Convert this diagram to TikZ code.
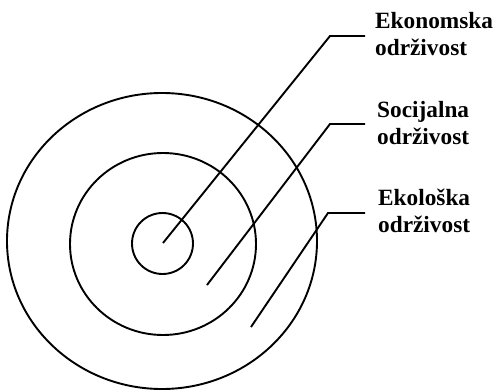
\documentclass[tikz,border=0pt]{standalone}
\usepackage{fontspec}
\setmainfont{Liberation Serif}
\begin{document}
\begin{tikzpicture}[x=1pt,y=-1pt,
  ring/.style={draw=black,line width=1.9pt},
  leader/.style={draw=black,line width=1.9pt},
  lbl/.style={font=\fontsize{23.3}{27}\selectfont\bfseries,align=left,inner sep=0pt,anchor=base west}]
\useasboundingbox (0,0) rectangle (496,391);
\draw[ring] (162,241) ellipse [x radius=155,y radius=148];
\draw[ring] (163,244) ellipse [x radius=93,y radius=91];
\draw[ring] (162.5,243.5) circle [radius=30.5];
\node[lbl] (l1) at (375,55) {Ekonomska\\održivost};
\node[lbl] (l2) at (377,144) {Socijalna\\održivost};
\node[lbl] (l3) at (378,232) {Ekološka\\održivost};
\coordinate (c1) at (163,243);
\coordinate (c2) at (207,285);
\coordinate (c3) at (251,327);
\coordinate (k1) at (330,36);
\coordinate (k2) at (330,124);
\coordinate (k3) at (328,213);
\draw[leader] (c1) -- (k1) -- ([xshift=-10pt]k1 -| l1.west);
\draw[leader] (c2) -- (k2) -- ([xshift=-12pt]k2 -| l2.west);
\draw[leader] (c3) -- (k3) -- ([xshift=-13pt]k3 -| l3.west);
\end{tikzpicture}
\end{document}
